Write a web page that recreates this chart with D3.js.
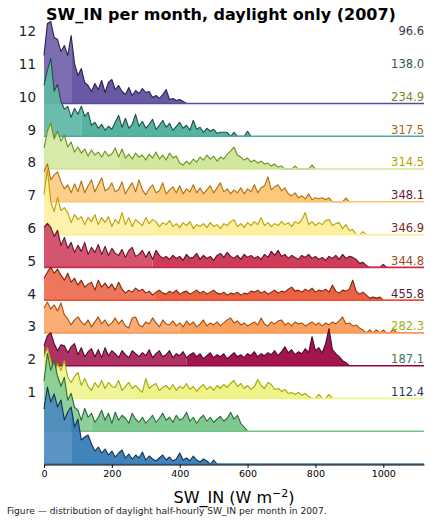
<!DOCTYPE html>
<html><head><meta charset="utf-8">
<script src="https://cdn.jsdelivr.net/npm/d3@7"></script>
<style>body{margin:0;background:#fff}svg{display:block}</style>
</head><body>
<svg id="c" width="431" height="523"></svg>
<script>
// ---- data (top ridge = December ... bottom ridge = January) ----
const monthLabels = ["12","11","10","9","8","7","6","5","4","3","2","1"];
const monthMeans  = ["96.6","138.0","234.9","317.5","314.5","348.1","346.9","344.8","455.8","282.3","187.1","112.4"];
const binStep = 10;            // W m-2 per histogram bin
const xTicks = [0,200,400,600,800,1000];

const dec = [48,80,82,66,64,52,58,48,68,40,28,35,21,18,12,20,14,23,11,21,24,14,18,12,9,16,8,13,10,15,11,12,6,8,5,9,14,4,5,3,4,2,0];
const nov = [51,66,78,45,52,35,27,30,19,28,22,30,20,24,11,14,8,12,6,10,7,14,21,9,18,8,12,22,10,15,8,12,17,7,11,16,9,13,6,10,14,8,11,6,16,7,9,4,8,5,7,3,4,4,4,0,4,0,0,0,5,0];
const oct = [21,38,46,30,38,28,34,22,27,17,22,16,20,13,19,14,17,12,18,13,15,21,12,20,11,15,10,16,12,14,9,15,11,17,10,14,9,16,11,13,6,4,8,5,10,7,12,9,14,10,13,8,12,10,15,18,22,14,12,9,11,7,9,6,8,5,6,3,5,2,3,0,0,0,3,0,0,0,0,4,0];
const sep = [30,38,22,27,30,20,13,17,9,18,10,21,9,16,22,10,17,24,11,13,19,10,12,20,8,14,19,10,22,12,7,13,17,9,11,19,8,12,15,9,16,8,13,10,17,9,14,8,12,16,9,14,19,10,13,8,12,9,14,8,13,10,17,9,14,16,25,12,15,17,11,14,8,6,9,4,6,3,8,2,4,3,4,2,4,0,0,0,0,4,0];
const aug = [40,65,33,23,37,24,27,22,12,20,15,18,10,17,13,20,10,17,12,18,8,15,11,22,10,17,8,15,12,9,17,11,15,13,8,12,10,14,8,11,7,12,9,13,6,10,8,11,7,12,8,10,6,11,9,13,15,8,11,7,12,9,13,10,17,9,12,8,11,9,13,10,12,8,13,11,15,22,10,13,9,12,10,14,15,9,11,12,6,10,4,5,0,0,3,0];
const jul = [40,44,40,31,37,22,30,19,25,15,22,16,25,13,20,15,23,13,21,12,19,14,12,18,10,17,20,11,13,17,10,16,8,17,12,9,11,8,12,9,11,7,13,9,10,14,8,12,9,11,7,12,14,10,15,11,9,12,8,13,10,12,9,11,8,13,10,16,12,17,11,13,9,12,10,8,12,10,13,9,11,8,10,7,11,9,12,8,13,9,11,10,8,4,5,2,0,0,0,0,3,0];
const jun = [22,28,33,27,31,25,20,27,18,22,15,20,13,16,18,10,20,13,17,12,16,10,18,11,7,10,8,12,9,11,7,9,5,8,10,7,6,9,7,10,6,8,9,6,8,10,7,9,6,8,10,7,6,8,5,7,6,8,5,7,6,9,8,10,7,9,6,8,10,7,9,8,11,13,9,10,8,11,9,12,8,10,9,11,8,15,9,7,10,9,11,20,9,6,8,5,2,3,2,3,0];
const may = [25,31,24,28,22,30,18,14,8,13,16,11,8,13,6,11,16,9,13,7,10,15,9,13,7,5,15,16,8,6,11,9,15,10,6,13,9,8,12,7,10,6,12,8,11,6,9,13,7,10,8,11,7,10,13,15,10,12,8,10,7,9,11,8,15,9,7,11,9,12,13,8,10,7,11,9,10,7,9,11,8,10,7,10,8,11,9,12,16,9,10,7,8,5,3,0,3,0,3,0,3,0,0,4,0];
const apr = [20,30,33,22,15,21,20,13,19,22,11,18,9,14,17,9,16,8,18,10,15,12,8,15,11,8,15,12,9,13,10,16,8,12,15,9,11,15,8,12,10,14,8,11,13,9,12,7,10,13,8,11,9,12,7,10,13,9,11,8,12,10,14,9,12,10,13,11,15,10,14,19,13,16,11,14,12,17,13,29,15,18,13,22,37,16,12,9,5,3,0];
const mar = [42,51,38,24,35,28,38,21,16,22,26,13,20,12,8,16,11,18,10,16,12,11,18,8,12,16,10,13,9,6,20,10,13,15,8,11,13,9,14,8,12,10,15,9,12,7,11,14,9,12,8,13,10,14,11,15,18,12,15,10,13,9,12,19,13,10,16,14,9,10,7,9,5,6,4,6,3,5,2,0,0,4,0,0,4,0];
const feb = [50,78,61,71,55,45,54,31,38,24,21,11,23,14,18,9,14,21,11,18,8,19,11,16,13,8,18,12,9,14,8,12,16,9,13,18,11,14,9,16,11,13,19,10,14,8,13,16,10,14,9,12,15,10,13,19,12,16,8,4,0];
const jan = [55,77,62,70,57,64,44,52,57,37,45,24,27,29,20,13,17,11,15,9,13,7,11,14,6,10,5,9,6,12,4,8,5,3,6,9,4,7,3,5,11,4,6,3,8,4,2,5,3,0,4,0];

const series = [dec, nov, oct, sep, aug, jul, jun, may, apr, mar, feb, jan];

// ---- styles ----
const fills = ["#5c4a9c","#48ab99","#cde595","#fcc36f","#fdee98","#c92c4c","#e95434","#fb9751","#9a013f","#eef27f","#74c386","#3179b5"];
const lines = ["#2b2250","#1f5048","#6a8f1f","#b06f10","#bba000","#5c1226","#7e2406","#a3500e","#4a0a25","#a3a800","#2b6b37","#16314f"];
const textCols = ["#3c3852","#2f5a55","#6b8e23","#a8650f","#b89c00","#6a1a35","#7a2a20","#9a4a1a","#5a1535","#a0b010","#3a7a50","#1f3a5f"];

const svg = d3.select("#c");
const x = d3.scaleLinear().domain([0, 1120]).range([44, 424]);
const base = d3.scalePoint().domain(monthLabels).range([103.5, 464]);
const step = base.step();
const h = d3.scaleLinear().domain([0, d3.max(series.flat())]).range([0, 2.5 * step]);
const font = "DejaVu Sans, sans-serif";
const defs = svg.append("defs");

// weighted median of a histogram (in W m-2)
function median(vals) {
  const total = d3.sum(vals);
  let c = 0;
  for (let i = 0; i < vals.length; i++) { c += vals[i]; if (c >= total / 2) return i * binStep; }
  return 0;
}

series.forEach((vals, k) => {
  const b = base(monthLabels[k]);
  const g = svg.append("g");
  const area = d3.area().x((d, i) => x(i * binStep)).y0(b).y1(d => b - h(d));
  const line = d3.line().x((d, i) => x(i * binStep)).y(d => b - h(d));
  const med = median(vals);
  const idL = "clipL" + k, idR = "clipR" + k;
  defs.append("clipPath").attr("id", idL).append("rect")
    .attr("x", x(0) - 2).attr("y", 0).attr("width", x(med) - x(0) + 2).attr("height", 523);
  defs.append("clipPath").attr("id", idR).append("rect")
    .attr("x", x(med)).attr("y", 0).attr("width", x(1120) - x(med) + 2).attr("height", 523);
  const light = d3.interpolateRgb(fills[k], "#ffffff")(0.13);
  g.append("path").attr("d", area(vals)).attr("fill", light).attr("fill-opacity", 0.92).attr("clip-path", `url(#${idL})`);
  g.append("path").attr("d", area(vals)).attr("fill", fills[k]).attr("fill-opacity", 0.92).attr("clip-path", `url(#${idR})`);
  g.append("path").attr("d", line(vals)).attr("fill", "none").attr("stroke", lines[k]).attr("stroke-width", 1.1).attr("stroke-linejoin", "round");
  g.append("line").attr("x1", x(0)).attr("x2", x(1120)).attr("y1", b).attr("y2", b)
    .attr("stroke", fills[k]).attr("stroke-width", 1.6);
});

// labels (month on left, mean on right)
monthLabels.forEach((m, k) => {
  const y = base(m) - 2.2 * step;
  svg.append("text").attr("x", 36).attr("y", y).attr("text-anchor", "end").attr("dominant-baseline", "central")
    .attr("font-family", font).attr("font-size", 13.5).attr("fill", "#222").text(m);
  svg.append("text").attr("x", 424).attr("y", y).attr("text-anchor", "end").attr("dominant-baseline", "central")
    .attr("font-family", font).attr("font-size", 11.5).attr("fill", textCols[k]).text(monthMeans[k]);
});

// x axis
const ax = svg.append("g").attr("transform", `translate(0,${base(monthLabels[11]) + 0.5})`)
  .call(d3.axisBottom(x).tickValues(xTicks).tickFormat(d3.format("d")).tickSize(3.5).tickSizeOuter(0).tickPadding(2));
ax.select(".domain").attr("stroke", "#000").attr("stroke-width", 1);
ax.selectAll(".tick line").attr("stroke", "#000").attr("stroke-width", 0.9);
ax.selectAll(".tick text").attr("font-family", font).attr("font-size", 9.5).attr("fill", "#000");

// axis title
const t = svg.append("text").attr("x", 234).attr("y", 503).attr("text-anchor", "middle")
  .attr("font-family", font).attr("font-size", 16).attr("fill", "#000");
t.append("tspan").text("SW_IN (W m");
t.append("tspan").attr("dy", -6).attr("font-size", 11).text("\u22122");
t.append("tspan").attr("dy", 6).text(")");

// title
svg.append("text").attr("x", 46).attr("y", 19.5).attr("font-family", font).attr("font-weight", "bold")
  .attr("font-size", 16).attr("fill", "#000").text("SW_IN per month, daylight only (2007)");

// caption
svg.append("text").attr("x", 7).attr("y", 514).attr("font-family", font).attr("font-size", 9.1)
  .attr("fill", "#222").text("Figure \u2014 distribution of daylight half-hourly SW_IN per month in 2007.");
</script>
</body></html>
